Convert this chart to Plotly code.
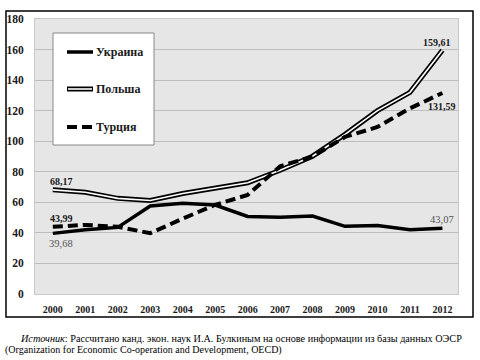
import plotly.graph_objects as go

years = list(range(2000, 2013))
ukraine = [39.68, 42.0, 43.6, 57.6, 59.4, 58.2, 50.8, 50.2, 51.0, 44.3, 44.8, 42.0, 43.07]
poland = [68.17, 66.6, 62.6, 61.2, 65.8, 69.3, 72.8, 81.0, 90.2, 104.5, 120.0, 132.0, 159.61]
turkey = [43.99, 45.2, 44.0, 39.8, 49.3, 58.4, 64.8, 83.6, 89.9, 102.8, 109.3, 121.5, 131.59]
y_ticks = [0, 20, 40, 60, 80, 100, 120, 140, 160, 180]
legend_names = ["Украина", "Польша", "Турция"]

SERIF = "Liberation Serif"

fig = go.Figure()
fig.add_trace(go.Scatter(x=years, y=poland, mode="lines",
                         line=dict(color="black", width=5), showlegend=False, hoverinfo="skip"))
fig.add_trace(go.Scatter(x=years, y=poland, mode="lines",
                         line=dict(color="white", width=1.6), showlegend=False, name=legend_names[1]))
fig.add_trace(go.Scatter(x=years, y=turkey, mode="lines",
                         line=dict(color="black", width=4, dash="10px,5px"), showlegend=False, name=legend_names[2]))
fig.add_trace(go.Scatter(x=years, y=ukraine, mode="lines",
                         line=dict(color="black", width=3.5), showlegend=False, name=legend_names[0]))

bold_font = dict(family=SERIF, size=10, color="#1a1a1a")
gray_font = dict(family=SERIF, size=10.5, color="#555555")

anns = []
def lab(x, y, text, xs, ys, font):
    anns.append(dict(x=x, y=y, xref="x", yref="y", text=text, showarrow=False,
                     xshift=xs, yshift=ys, font=font))

lab(years[0], poland[0], "<b>68,17</b>", 9, 8, bold_font)
lab(years[0], turkey[0], "<b>43,99</b>", 9, 8, bold_font)
lab(years[0], ukraine[0], "39,68", 8, -10, gray_font)
lab(years[-1], poland[-1], "<b>159,61</b>", -5, 8, bold_font)
lab(years[-1], turkey[-1], "<b>131,59</b>", 0, -14, bold_font)
lab(years[-1], ukraine[-1], "43,07", 0, 9, gray_font)

# paper area = outer frame (x 6..473, y 11..317 in pixels)
FX0, FW, FY1, FH = 6, 467, 317, 306
def px(xp):
    return (xp - FX0) / FW
def py(yp):
    return (FY1 - yp) / FH

shapes = []
# outer frame
shapes.append(dict(type="rect", xref="paper", yref="paper", x0=0, x1=1, y0=0, y1=1,
                   line=dict(color="black", width=1.5), fillcolor="rgba(0,0,0,0)"))
# legend box
shapes.append(dict(type="rect", xref="paper", yref="paper", x0=px(53), x1=px(154), y0=py(145), y1=py(33),
                   line=dict(color="#888888", width=1), fillcolor="white"))
rows = [52, 89, 127]
shapes.append(dict(type="line", xref="paper", yref="paper", x0=px(67), x1=px(93), y0=py(rows[0]), y1=py(rows[0]),
                   line=dict(color="black", width=3.5)))
shapes.append(dict(type="line", xref="paper", yref="paper", x0=px(67), x1=px(93), y0=py(rows[1]), y1=py(rows[1]),
                   line=dict(color="black", width=5)))
shapes.append(dict(type="line", xref="paper", yref="paper", x0=px(68), x1=px(92), y0=py(rows[1]), y1=py(rows[1]),
                   line=dict(color="white", width=1.6)))
shapes.append(dict(type="line", xref="paper", yref="paper", x0=px(67), x1=px(93), y0=py(rows[2]), y1=py(rows[2]),
                   line=dict(color="black", width=4, dash="10px,5px")))
for name, r in zip(legend_names, rows):
    anns.append(dict(x=px(94), y=py(r), xref="paper", yref="paper", text="<b>" + name + "</b>",
                     showarrow=False, xanchor="left", yanchor="middle",
                     font=dict(family=SERIF, size=12, color="#1a1a1a")))

anns.append(dict(x=px(18), y=py(338), xref="paper", yref="paper",
                 text="<i>Источник</i>: Рассчитано канд. экон. наук И.А. Булкиным на основе информации из базы данных ОЭСР",
                 showarrow=False, xanchor="left", yanchor="middle",
                 font=dict(family=SERIF, size=10.2, color="black")))
anns.append(dict(x=px(3), y=py(350), xref="paper", yref="paper",
                 text="(Organization for Economic Co-operation and Development, OECD)",
                 showarrow=False, xanchor="left", yanchor="middle",
                 font=dict(family=SERIF, size=10, color="black")))

fig.update_layout(
    width=480, height=360,
    margin=dict(l=6, r=7, t=11, b=43),
    plot_bgcolor="#e6e6e6",
    showlegend=False,
    annotations=anns,
    shapes=shapes,
)
fig.update_xaxes(domain=[px(35), px(458)], range=[1999.45, 2012.48], tickmode="array", tickvals=years,
                 ticktext=["<b>%d</b>" % y for y in years], showgrid=False, zeroline=False,
                 tickfont=dict(family=SERIF, size=10, color="#1a1a1a"),
                 showline=True, linecolor="#c8c8c8", linewidth=1, mirror=True,
                 ticks="", ticklabelstandoff=6)
fig.update_yaxes(domain=[py(294), py(19)], range=[0, 180], tickmode="array", tickvals=y_ticks,
                 ticktext=["<b>%d</b>" % v for v in y_ticks], showgrid=True, gridcolor="#bdbdbd", gridwidth=1,
                 zeroline=False, tickfont=dict(family=SERIF, size=11.5, color="#1a1a1a"),
                 showline=True, linecolor="#c8c8c8", linewidth=1, mirror=True,
                 ticks="", ticklabelstandoff=8)

fig.write_html("out.html", config={"displayModeBar": False},
               post_script="document.body.style.margin='0';")
